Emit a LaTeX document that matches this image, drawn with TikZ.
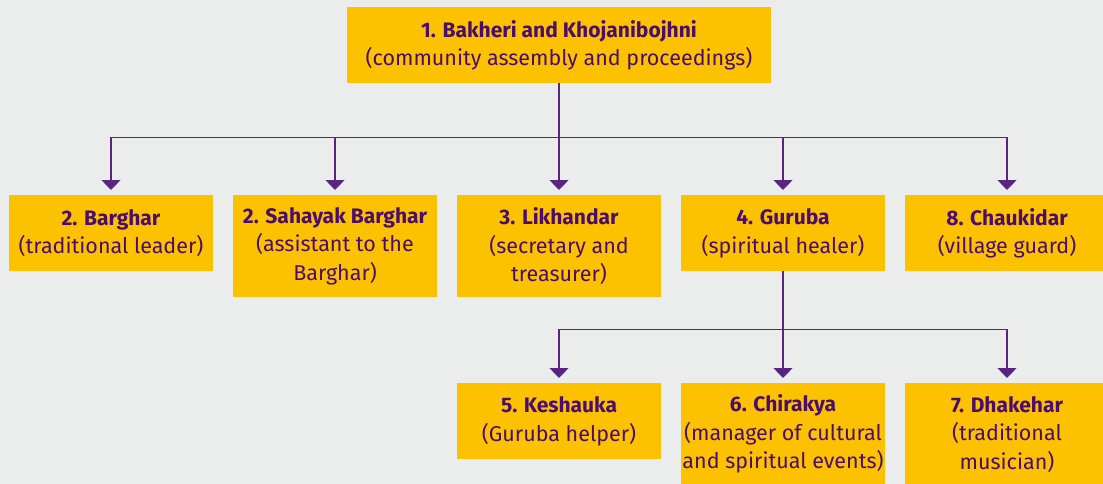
\documentclass[tikz,border=0pt]{standalone}
\usepackage{fontspec}
\setmainfont{Fira Sans}
\usetikzlibrary{arrows.meta}
\definecolor{bgGrey}{HTML}{EBEDEC}
\definecolor{boxYellow}{HTML}{FCC200}
\definecolor{inkPurple}{HTML}{4B0C6B}
\definecolor{linkPurple}{HTML}{5A2580}
\newcommand{\rolename}[1]{{\fontsize{21}{28.5}\selectfont\bfseries #1}}
\begin{document}
\begin{tikzpicture}[x=1pt,y=-1pt,
  unit/.style={fill=boxYellow,text=inkPurple,anchor=north,minimum width=204pt,
    minimum height=76pt,inner sep=0pt,align=center,font=\fontsize{21.5}{28.5}\selectfont},
  tall/.style={minimum height=102pt},
  link/.style={linkPurple,line width=1.3pt,-{Triangle[width=19pt,length=10pt]},shorten >=5pt}]
  \fill[bgGrey] (0,0) rectangle (1103,484);
  \useasboundingbox (0,0) rectangle (1103,484);
  % assembly on top
  \node[unit,minimum width=424pt] (assembly) at (559,7)
    {\rolename{1. Bakheri and Khojanibojhni}\\(community assembly and proceedings)};
  % second row
  \node[unit] (barghar) at (111,195) {\rolename{2. Barghar}\\(traditional leader)};
  \node[unit,tall] (sahayak) at (335,195) {\rolename{2. Sahayak Barghar}\\(assistant to the\\Barghar)};
  \node[unit,tall] (likhandar) at (559,195) {\rolename{3. Likhandar}\\(secretary and\\treasurer)};
  \node[unit] (guruba) at (783,195) {\rolename{4. Guruba}\\(spiritual healer)};
  \node[unit] (chaukidar) at (1007,195) {\rolename{8. Chaukidar}\\(village guard)};
  % under the guruba
  \node[unit] (keshauka) at (559,383) {\rolename{5. Keshauka}\\(Guruba helper)};
  \node[unit,tall] (chirakya) at (783,383) {\rolename{6. Chirakya}\\(manager of cultural\\and spiritual events)};
  \node[unit,tall] (dhakehar) at (1007,383) {\rolename{7. Dhakehar}\\(traditional\\musician)};
  % connectors
  \foreach \kid in {barghar,sahayak,likhandar,guruba,chaukidar}
    \draw[link] (assembly.south) -- ++(0,54) -| (\kid.north);
  \foreach \kid in {keshauka,chirakya,dhakehar}
    \draw[link] (guruba.south) -- ++(0,58) -| (\kid.north);
\end{tikzpicture}
\end{document}
